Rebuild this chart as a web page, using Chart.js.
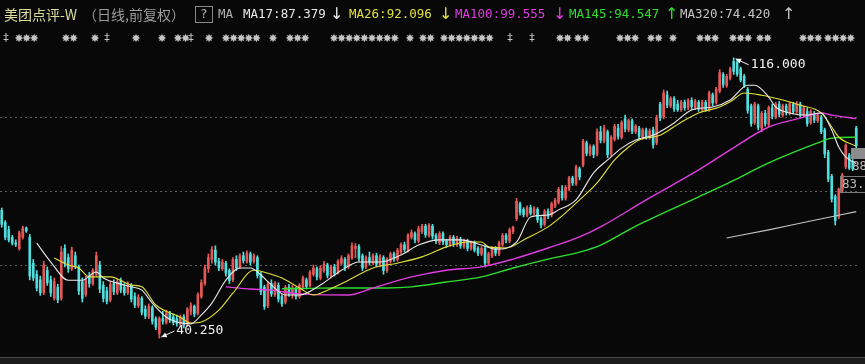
<!DOCTYPE html>
<html>
<head>
<meta charset="utf-8">
<script src="https://cdn.jsdelivr.net/npm/chart.js@4.4.1/dist/chart.umd.min.js"></script>
<style>
  html, body { margin: 0; padding: 0; background: #080808; }
  #wrap { width: 865px; height: 364px; position: relative; }
</style>
</head>
<body>
<div id="wrap"><canvas id="kline"></canvas></div>
<script>
// 日K线数据, 每行10根
const opens = [
  74.8, 71.5, 69.5, 67.5, 66.0, 64.5, 67.5, 70.0, 67.5, 60.5,
  57.5, 56.0, 52.5, 58.5, 56.0, 51.0, 54.0, 51.0, 64.5, 62.0,
  59.0, 62.5, 59.5, 55.5, 52.0, 57.0, 55.0, 57.5, 60.0, 54.5,
  53.0, 50.5, 55.0, 52.5, 55.8, 54.0, 52.5, 54.5, 51.5, 49.0,
  51.0, 48.0, 46.0, 48.5, 45.5, 41.5, 45.5, 44.5, 47.0, 46.0,
  45.5, 44.0, 46.0, 44.0, 47.5, 48.8, 47.0, 51.5, 55.0, 59.0,
  61.5, 64.0, 61.0, 59.0, 60.5, 58.5, 56.0, 61.5, 59.5, 62.5,
  61.0, 63.0, 61.0, 62.0, 57.5, 54.0, 49.0, 55.0, 52.0, 54.5,
  51.5, 50.0, 54.0, 52.0, 53.5, 51.5, 54.0, 56.0, 54.5, 57.5,
  59.0, 56.5, 58.5, 60.0, 57.0, 59.5, 58.0, 60.5, 61.5, 59.5,
  62.0, 64.5, 65.0, 62.5, 59.5, 62.0, 60.5, 62.5, 60.0, 62.0,
  58.5, 61.0, 63.0, 61.5, 63.5, 65.5, 64.0, 67.5, 68.5, 66.5,
  69.0, 70.5, 68.0, 70.5, 68.0, 66.0, 68.5, 66.5, 65.5, 67.5,
  65.5, 67.0, 65.0, 66.5, 64.5, 66.0, 64.5, 63.0, 64.5, 60.5,
  62.5, 64.5, 63.0, 65.5, 68.0, 66.5, 69.0, 72.5, 76.5, 75.0,
  73.5, 75.5, 74.0, 75.0, 72.5, 71.0, 74.5, 73.5, 76.0, 77.0,
  80.0, 78.0, 80.5, 83.5, 82.0, 86.0, 87.0, 93.0, 90.0, 92.0,
  90.0, 96.0, 93.5, 96.0, 90.0, 94.0, 97.0, 94.5, 99.5, 96.5,
  99.0, 96.0, 97.0, 94.5, 96.5, 94.5, 96.5, 93.0, 103.5, 100.0,
  106.0, 103.0, 105.0, 103.5, 102.0, 104.0, 102.5, 104.5, 102.5, 104.0,
  102.0, 104.0, 102.0, 106.0, 104.0, 107.0, 111.5, 108.5, 110.5, 115.0,
  114.8, 113.0, 111.0, 107.5, 103.0, 98.5, 103.0, 97.0, 101.0, 98.0,
  102.5, 100.0, 103.5, 100.5, 103.0, 101.0, 103.5, 101.5, 103.5, 100.5,
  101.5, 98.5, 101.0, 99.0, 100.0, 96.5, 90.5, 84.0, 78.5, 73.0,
  80.0, 86.5, 89.7, 88.0, 97.0
];
const highs = [
  75.4, 72.0, 70.5, 68.0, 66.8, 69.2, 70.5, 70.3, 68.3, 61.5,
  58.5, 57.0, 61.0, 59.5, 57.0, 56.5, 54.8, 65.0, 65.5, 63.0,
  64.8, 63.5, 60.0, 56.5, 57.0, 58.0, 59.0, 63.5, 61.0, 55.5,
  54.0, 55.5, 56.0, 56.2, 56.5, 55.0, 55.5, 55.0, 52.5, 52.0,
  51.5, 49.0, 49.5, 49.0, 46.0, 46.0, 47.5, 47.8, 47.5, 46.8,
  46.5, 46.5, 46.6, 48.5, 49.8, 49.2, 52.5, 56.0, 60.0, 63.0,
  65.0, 65.2, 61.8, 61.5, 61.0, 59.0, 62.0, 62.5, 63.0, 63.5,
  63.8, 63.5, 63.0, 62.5, 58.0, 54.5, 55.5, 56.0, 55.5, 55.2,
  52.0, 54.5, 54.8, 54.5, 54.0, 55.0, 57.0, 56.5, 58.5, 60.0,
  59.5, 59.8, 61.0, 60.5, 60.0, 60.2, 61.5, 62.5, 62.0, 63.0,
  66.0, 65.8, 65.5, 63.0, 62.5, 63.5, 63.0, 63.2, 62.8, 62.5,
  62.0, 63.5, 63.5, 64.5, 66.0, 66.2, 68.5, 69.5, 69.0, 70.5,
  71.0, 71.0, 71.2, 71.0, 68.5, 69.0, 69.0, 67.0, 68.0, 68.0,
  67.8, 67.5, 67.0, 67.0, 66.5, 66.5, 65.0, 65.0, 65.2, 63.5,
  65.0, 65.0, 66.5, 68.5, 68.5, 70.0, 70.5, 78.0, 77.0, 75.5,
  76.0, 76.2, 75.8, 75.5, 73.0, 75.0, 75.2, 77.0, 78.0, 81.0,
  81.5, 81.5, 84.0, 84.0, 87.0, 86.5, 94.0, 93.5, 92.5, 92.5,
  96.8, 97.5, 97.8, 96.5, 95.0, 98.0, 98.0, 99.0, 100.5, 99.5,
  99.5, 98.0, 97.5, 97.0, 97.0, 96.8, 97.3, 100.5, 104.0, 107.3,
  107.0, 105.5, 105.5, 104.5, 104.5, 104.6, 105.0, 105.2, 104.8, 104.5,
  104.5, 104.5, 107.0, 106.5, 108.0, 112.8, 112.0, 111.5, 113.5, 116.0,
  115.5, 113.5, 111.5, 108.0, 103.5, 104.0, 103.5, 101.5, 101.8, 103.0,
  103.5, 104.0, 104.2, 103.5, 103.5, 104.0, 104.0, 104.2, 104.0, 103.0,
  102.5, 102.0, 101.5, 101.0, 100.5, 97.0, 91.0, 84.5, 79.0, 80.8,
  84.8, 92.8, 90.2, 88.5, 97.5
];
const lows = [
  70.2, 66.8, 66.2, 65.4, 65.0, 64.0, 67.0, 68.8, 56.0, 55.8,
  53.0, 51.8, 52.0, 54.5, 51.5, 50.5, 49.8, 50.5, 59.5, 58.0,
  58.5, 59.0, 52.0, 50.0, 51.5, 54.0, 54.5, 57.0, 52.5, 50.0,
  49.5, 50.0, 52.0, 52.0, 52.5, 51.8, 52.0, 50.0, 48.5, 48.5,
  46.5, 45.5, 45.5, 44.0, 42.5, 40.25, 44.0, 44.0, 44.5, 43.8,
  43.5, 43.5, 43.0, 43.5, 46.5, 46.0, 46.5, 51.0, 54.5, 58.0,
  60.5, 60.0, 58.5, 58.5, 57.0, 55.0, 55.5, 58.5, 59.0, 60.5,
  60.5, 60.0, 60.5, 56.5, 52.0, 48.0, 48.5, 51.5, 51.5, 50.0,
  48.8, 49.5, 51.5, 51.0, 50.8, 51.0, 53.5, 53.5, 54.0, 57.0,
  56.0, 56.0, 58.0, 56.5, 56.5, 57.0, 57.5, 60.0, 58.5, 59.0,
  61.5, 62.0, 61.0, 58.5, 59.0, 60.0, 60.0, 59.5, 59.5, 57.5,
  58.0, 60.5, 61.0, 61.0, 63.0, 63.5, 63.5, 67.0, 66.0, 66.0,
  68.5, 67.5, 67.5, 67.0, 65.8, 65.5, 65.5, 64.8, 65.0, 65.0,
  65.0, 64.5, 64.5, 63.8, 64.0, 63.5, 62.5, 62.5, 59.5, 60.0,
  62.0, 62.5, 62.5, 65.0, 66.0, 66.0, 68.5, 72.0, 73.5, 73.0,
  73.0, 73.5, 73.5, 71.5, 70.0, 70.5, 72.5, 73.0, 75.5, 76.5,
  77.5, 77.5, 80.0, 81.5, 81.5, 83.0, 86.5, 89.5, 89.5, 89.0,
  89.5, 93.0, 93.0, 89.0, 89.5, 93.5, 94.0, 94.0, 96.0, 96.0,
  95.5, 95.5, 94.0, 94.0, 94.0, 94.0, 91.6, 92.5, 99.0, 99.5,
  102.5, 102.5, 101.5, 101.5, 101.5, 101.8, 102.0, 102.0, 102.0, 101.5,
  101.5, 101.5, 101.5, 103.0, 103.5, 106.5, 108.0, 108.0, 110.0, 111.5,
  111.0, 109.5, 108.0, 101.0, 97.5, 98.0, 96.5, 96.0, 97.5, 97.5,
  99.5, 99.5, 100.0, 100.0, 100.5, 100.5, 100.8, 101.0, 100.0, 100.0,
  97.5, 98.0, 98.5, 98.5, 95.5, 89.0, 82.5, 77.0, 70.8, 72.5,
  79.5, 86.0, 85.8, 85.5, 91.5
];
const closes = [
  71.0, 67.5, 66.8, 65.9, 65.6, 68.7, 70.0, 69.2, 57.0, 56.5,
  53.8, 52.5, 60.0, 55.2, 52.5, 55.5, 50.6, 63.5, 60.5, 59.0,
  64.0, 60.0, 53.0, 51.0, 56.0, 55.0, 58.5, 62.5, 53.5, 51.0,
  50.2, 54.8, 52.8, 55.5, 53.2, 52.5, 54.8, 50.8, 49.2, 51.2,
  47.2, 46.2, 48.8, 44.8, 43.2, 45.5, 44.8, 47.0, 45.2, 44.5,
  44.2, 46.0, 43.8, 48.0, 49.0, 46.8, 52.0, 55.2, 59.2, 62.0,
  64.2, 60.8, 59.2, 60.8, 57.8, 55.8, 61.5, 59.2, 62.5, 61.2,
  63.2, 60.8, 62.5, 57.2, 52.8, 48.8, 54.8, 52.2, 55.0, 50.8,
  49.5, 54.0, 52.2, 53.8, 51.5, 54.5, 56.5, 54.2, 58.0, 59.2,
  56.8, 59.2, 60.2, 57.2, 59.5, 57.8, 61.0, 61.8, 59.2, 62.5,
  65.2, 65.0, 61.8, 59.2, 62.0, 60.8, 62.5, 60.2, 62.2, 58.5,
  61.5, 63.0, 61.8, 64.0, 65.5, 64.2, 68.0, 68.8, 66.8, 69.8,
  70.5, 68.2, 70.8, 67.8, 66.5, 68.5, 66.2, 65.5, 67.5, 65.8,
  67.2, 65.2, 66.5, 64.5, 66.0, 64.0, 63.2, 64.5, 60.5, 63.0,
  64.5, 63.2, 66.0, 68.0, 66.8, 69.5, 70.2, 77.2, 74.2, 73.6,
  75.5, 74.0, 75.2, 72.2, 70.8, 74.5, 73.2, 76.5, 77.5, 80.5,
  78.2, 81.0, 83.5, 82.2, 86.5, 83.8, 93.5, 90.2, 92.0, 89.8,
  96.0, 93.8, 97.0, 89.8, 94.5, 97.5, 94.8, 98.5, 96.8, 99.0,
  96.2, 97.5, 94.8, 96.5, 94.6, 96.2, 92.5, 99.8, 99.8, 106.5,
  103.2, 105.0, 102.2, 102.0, 104.0, 102.5, 104.5, 102.8, 104.2, 102.2,
  104.0, 102.0, 106.5, 103.8, 107.5, 112.0, 108.8, 111.0, 113.0, 112.3,
  111.6, 110.0, 108.6, 101.8, 98.2, 103.5, 97.2, 101.0, 98.2, 102.5,
  100.2, 103.5, 100.8, 103.0, 101.2, 103.6, 101.5, 103.5, 100.8, 102.5,
  98.2, 101.5, 99.2, 100.5, 96.0, 90.0, 83.2, 77.8, 72.0, 80.5,
  84.3, 92.4, 86.2, 86.0, 92.2
];

// 均线 [K线序号, 价格], 读图取点
const ma17 = [[10, 65.9], [14, 60.8], [19, 55.9], [23, 55.9], [27, 58.1], [29, 56.5], [33, 55.1], [37, 54.1],
  [40, 53.2], [43, 49.7], [47, 45.9], [50, 44.6], [54, 44.1], [57, 46.5], [60, 49.7], [64, 55.9], [68, 59.2],
  [71, 59.2], [74, 57.3], [77, 54.6], [81, 51.9], [85, 51.9], [91, 54.6], [97, 58.6], [102, 60.8], [108, 60.8],
  [114, 62.7], [119, 65.4], [125, 66.8], [131, 66.8], [137, 65.4], [141, 64.3], [147, 66.2], [151, 73.0],
  [156, 73.5], [159, 74.9], [164, 77.6], [169, 84.9], [173, 88.4], [177, 91.6], [181, 93.8], [186, 95.1],
  [192, 98.4], [197, 101.9], [203, 102.7], [208, 104.6], [213, 108.6], [215, 108.6], [219, 105.4], [221, 102.7],
  [225, 101.1], [230, 100.5], [234, 101.1], [237, 96.5], [239, 91.9], [241, 89.2], [244, 87.379]];
const ma26 = [[15, 61.9], [19, 60.0], [22, 59.2], [25, 56.8], [31, 56.8], [37, 54.6], [40, 54.1], [44, 49.2],
  [51, 45.9], [54, 44.3], [57, 44.6], [62, 47.8], [66, 52.4], [72, 58.6], [76, 57.8], [80, 56.5], [85, 53.8],
  [89, 51.9], [93, 53.2], [99, 55.9], [106, 59.2], [113, 60.5], [120, 62.2], [127, 64.9], [133, 66.2], [137, 66.2],
  [139, 64.9], [144, 64.6], [150, 67.3], [156, 70.3], [161, 74.1], [165, 77.6], [170, 82.2], [175, 88.4],
  [179, 91.9], [182, 93.8], [188, 95.1], [194, 98.6], [199, 101.1], [205, 102.7], [208, 104.1], [212, 106.5],
  [217, 105.9], [223, 104.6], [228, 103.2], [234, 101.1], [237, 97.3], [239, 94.6], [244, 92.096]];
const ma100 = [[64, 54.1], [71, 53.5], [77, 53.2], [85, 52.2], [99, 51.9], [106, 53.8], [117, 56.8], [127, 58.6],
  [137, 59.5], [146, 61.6], [156, 64.6], [165, 67.6], [171, 70.3], [184, 77.6], [199, 85.7], [208, 91.1],
  [219, 97.3], [228, 99.7], [234, 101.1], [237, 100.5], [244, 99.555]];
const ma145 = [[80, 53.6], [88, 53.7], [95, 53.8], [110, 53.8], [117, 54.1], [127, 55.4], [137, 56.8], [146, 59.2],
  [156, 61.6], [165, 63.5], [171, 65.4], [180, 70.0], [199, 78.4], [208, 82.4], [219, 87.6], [233, 93.0],
  [237, 94.3], [244, 94.547]];
const ma320 = [[207, 67.3], [219, 69.5], [231, 71.9], [244, 74.42]];

const stockName = '美团点评-W';
const maNames = ['MA17', 'MA26', 'MA100', 'MA145', 'MA320'];
const maLast = [87.379, 92.096, 99.555, 94.547, 74.420];
const maTrend = ['↓', '↓', '↓', '↑', '↑'];
const gridPrices = [60, 80, 100];

const maColors = ['#e8e8e8', '#e2e23a', '#e03ce0', '#2ede2e', '#c4c4c4'];
const upColor = '#e65858';
const downColor = '#50dede';
const mono = '"DejaVu Sans Mono", monospace';

const candleColors = closes.map((c, i) => c >= opens[i] ? upColor : downColor);

function drawArrowTag(ctx, px, py, text, dir) {
    // dir = 1 标在最高点右下, -1 标在最低点右上
    const tx = px + 17, ty = py + dir * 7;
    const hx = px + 2, hy = py + dir * 1;
    ctx.strokeStyle = '#f2f2f2';
    ctx.fillStyle = '#f2f2f2';
    ctx.lineWidth = 1;
    ctx.beginPath();
    ctx.moveTo(tx - 2, ty);
    ctx.lineTo(hx, hy);
    ctx.stroke();
    const a = Math.atan2(hy - ty, hx - (tx - 2));
    ctx.beginPath();
    ctx.moveTo(hx, hy);
    ctx.lineTo(hx - 6 * Math.cos(a - 0.45), hy - 6 * Math.sin(a - 0.45));
    ctx.lineTo(hx - 6 * Math.cos(a + 0.45), hy - 6 * Math.sin(a + 0.45));
    ctx.closePath();
    ctx.fill();
    ctx.font = '13px ' + mono;
    ctx.textBaseline = 'middle';
    ctx.fillText(text, tx, ty);
}

// 信息地雷的星形小标记
function drawMine(ctx, cx, cy) {
    ctx.beginPath();
    for (let k = 0; k < 16; k++) {
        const r = k % 2 === 0 ? 4.2 : 2.4;
        const a = k * Math.PI / 8;
        const px = cx + r * Math.cos(a), py = cy + r * Math.sin(a);
        if (k === 0) ctx.moveTo(px, py); else ctx.lineTo(px, py);
    }
    ctx.closePath();
    ctx.fill();
}

function drawHeader(ctx) {
    ctx.textBaseline = 'middle';
    ctx.font = '14px "Noto Sans CJK SC"';
    ctx.fillStyle = '#dcdc9c';
    ctx.fillText(stockName, 4, 15);
    ctx.fillStyle = '#9c9c9c';
    ctx.fillText('（日线,前复权）', 83, 15);

    ctx.strokeStyle = '#8a8a8a';
    ctx.lineWidth = 1;
    ctx.strokeRect(195.5, 6.5, 17, 16);
    ctx.font = '12.5px ' + mono;
    ctx.fillStyle = '#b0b0b0';
    ctx.fillText('?', 200, 15);
    ctx.fillText('MA', 218, 15);

    const textX = [243, 349, 455, 569, 680];
    const arrowX = [330, 439, 553, 665, 782];
    maNames.forEach((name, k) => {
        ctx.fillStyle = maColors[k];
        ctx.font = '12.5px ' + mono;
        ctx.fillText(name + ':' + maLast[k].toFixed(3), textX[k], 15);
        ctx.font = '16px "DejaVu Sans"';
        ctx.fillText(maTrend[k], arrowX[k], 15);
    });

    // 第二行信息地雷标记
    const runs = [[19, 3], [66, 2], [95, 1], [136, 1], [162, 1], [178, 2], [209, 1], [226, 5], [273, 1], [290, 3],
        [334, 9], [410, 1], [423, 2], [444, 7], [560, 2], [578, 2], [620, 3], [651, 2], [673, 1], [700, 3],
        [733, 3], [760, 2], [803, 3], [828, 4]];
    const bars = [6, 107, 191, 510, 532];
    ctx.fillStyle = '#c4c4c4';
    runs.forEach(([x, n]) => {
        for (let j = 0; j < n; j++) drawMine(ctx, x + j * 7.6, 38);
    });
    ctx.font = '11px "DejaVu Sans"';
    ctx.textAlign = 'center';
    bars.forEach(x => ctx.fillText('‡', x, 38));
    ctx.textAlign = 'left';
}

const overlay = {
    id: 'overlay',
    beforeDraw(chart) {
        const ctx = chart.ctx;
        ctx.save();
        ctx.fillStyle = '#080808';
        ctx.fillRect(0, 0, chart.width, chart.height);
        ctx.restore();
    },
    afterDraw(chart) {
        const ctx = chart.ctx;
        const xs = chart.scales.x, ys = chart.scales.y, area = chart.chartArea;
        ctx.save();

        // 底部边框
        ctx.fillStyle = '#1b1b1b';
        ctx.fillRect(0, area.bottom + 1, chart.width, chart.height - area.bottom);
        ctx.fillStyle = '#4a4a4a';
        ctx.fillRect(0, area.bottom, chart.width, 1);

        drawHeader(ctx);

        // 最高 / 最低价标注
        const hi = highs.indexOf(Math.max(...highs));
        const lo = lows.indexOf(Math.min(...lows));
        drawArrowTag(ctx, xs.getPixelForValue(hi), ys.getPixelForValue(highs[hi]), highs[hi].toFixed(3), 1);
        drawArrowTag(ctx, xs.getPixelForValue(lo), ys.getPixelForValue(lows[lo]), lows[lo].toFixed(3), -1);

        // 右侧被截断的价格标签
        ctx.fillStyle = '#8c8c8c';
        ctx.fillRect(851, 148, 14, 11);
        ctx.font = '12.5px ' + mono;
        ctx.textBaseline = 'middle';
        ctx.fillStyle = '#bdbdbd';
        ctx.fillText('88.0', 852, 167);
        ctx.strokeStyle = '#7a7a7a';
        ctx.strokeRect(840.5, 176.5, 30, 16);
        ctx.fillText('83.3', 842, 185);
        ctx.restore();
    }
};

const idx = closes.map((c, i) => i);
const maSets = [ma17, ma26, ma100, ma145, ma320].map((pts, k) => ({
    type: 'line',
    label: maNames[k],
    data: pts.map(p => ({ x: p[0], y: p[1] })),
    borderColor: maColors[k],
    borderWidth: k >= 2 && k <= 3 ? 1.4 : 1.1,
    pointRadius: 0,
    cubicInterpolationMode: 'monotone',
    order: 0
}));

new Chart(document.getElementById('kline'), {
    type: 'bar',
    data: {
        datasets: [
            {
                label: 'wick',
                data: idx.map(i => ({ x: i, y: [lows[i], highs[i]] })),
                backgroundColor: candleColors,
                barThickness: 1,
                grouped: false,
                order: 1
            },
            {
                label: 'body',
                data: idx.map(i => ({ x: i, y: [opens[i], closes[i]] })),
                backgroundColor: candleColors,
                barThickness: 2,
                minBarLength: 1,
                grouped: false,
                order: 1
            },
            ...maSets
        ]
    },
    options: {
        responsive: true,
        maintainAspectRatio: false,
        animation: false,
        devicePixelRatio: 1,
        layout: { padding: { left: 0, right: 7, top: 50, bottom: 7 } },
        plugins: {
            legend: { display: false },
            tooltip: { enabled: false }
        },
        scales: {
            x: {
                type: 'linear',
                min: -0.5,
                max: closes.length - 0.5,
                offset: false,
                display: false
            },
            y: {
                min: 35.14,
                max: 118.11,
                position: 'left',
                afterBuildTicks: s => { s.ticks = gridPrices.map(v => ({ value: v })); },
                afterFit: s => { s.width = 0; },
                ticks: { display: false },
                grid: { color: '#5c5c5c', drawTicks: false, lineWidth: 1 },
                border: { display: false, dash: [2, 3] }
            }
        }
    },
    plugins: [overlay]
});
</script>
</body>
</html>
